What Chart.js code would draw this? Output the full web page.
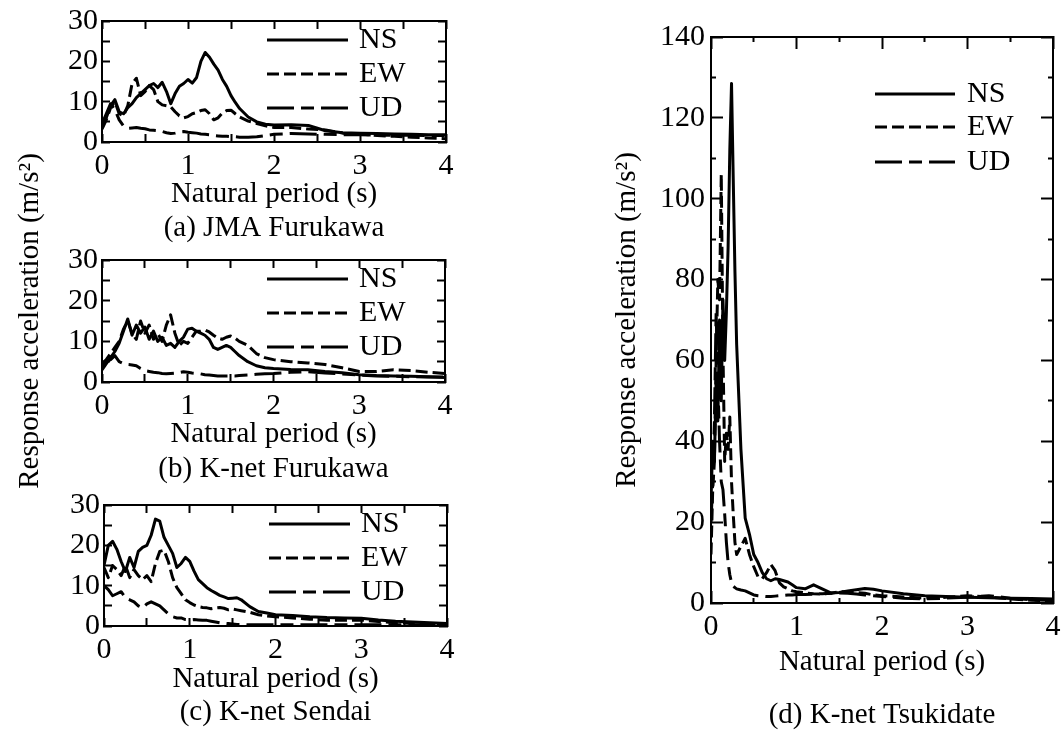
<!DOCTYPE html>
<html>
<head>
<meta charset="utf-8">
<title>Response spectra</title>
<script src="https://cdn.jsdelivr.net/npm/chart.js@4.4.1/dist/chart.umd.min.js"></script>
<style>
  html, body { margin: 0; padding: 0; background: #fff; }
  body { position: relative; width: 1061px; height: 731px; overflow: hidden; }
  canvas { position: absolute; }
</style>
</head>
<body>
<canvas id="chartA"></canvas>
<canvas id="chartB"></canvas>
<canvas id="chartC"></canvas>
<canvas id="chartD"></canvas>
<script>
// natural periods (s) used by panels a, b, c
const periodLeft = [0, 0.05, 0.1, 0.15, 0.2, 0.25, 0.3, 0.35, 0.4, 0.45, 0.5, 0.55, 0.6, 0.65, 0.7, 0.75, 0.8,
  0.85, 0.9, 0.95, 1.0, 1.05, 1.1, 1.15, 1.2, 1.25, 1.3, 1.35, 1.4, 1.45, 1.5, 1.55, 1.6,
  1.7, 1.8, 1.9, 2.0, 2.2, 2.4, 2.6, 2.8, 3.0, 3.2, 3.4, 3.6, 3.8, 4.0];

// (a) JMA Furukawa
const nsA = [4.2, 6, 9, 10.5, 7.5, 7, 8.5, 9.5, 11, 12, 13, 14, 14.5, 13.5, 14.8, 12.5, 9.5,
  12, 13.8, 14.5, 15.5, 14.6, 16, 20, 22.2, 21, 19.3, 17.8, 15.5, 13.8, 11.5, 9.8, 8.3,
  6.2, 5, 4.4, 4.2, 4.3, 4.1, 2.8, 2.3, 2.2, 2.1, 2.0, 1.9, 1.8, 1.8];
const ewA = [3.2, 5.5, 8.5, 10, 7, 6.5, 9, 14.5, 15.8, 11.5, 12.5, 14, 13, 10, 9.2, 9, 8.7,
  7.5, 6.5, 6, 6.3, 7, 7.3, 7.8, 8, 7, 5.5, 6, 7.2, 7.8, 7.9, 7, 6.2,
  5.2, 4.6, 4, 3.6, 3.6, 3.2, 3.0, 2.2, 2.0, 1.6, 1.4, 1.2, 1.0, 0.8];
const udA = [4.5, 7, 9.5, 8, 5.5, 4, 3.4, 3.5, 3.6, 3.4, 3.3, 3.0, 2.9, 2.8, 2.6, 2.3, 2.1,
  2.2, 2.5, 2.6, 2.4, 2.3, 2.2, 2.0, 1.9, 1.8, 1.6, 1.5, 1.4, 1.4, 1.3, 1.3, 1.2,
  1.2, 1.3, 1.6, 1.9, 2.1, 2.0, 1.9, 1.8, 1.8, 1.7, 1.7, 1.7, 1.6, 1.6];

// (b) K-net Furukawa
const nsB = [3, 4.5, 6, 7.5, 9.5, 12.5, 15.5, 11.5, 14, 12, 13.5, 10.5, 12.5, 10, 11, 9, 9.5,
  8.5, 10, 11, 13, 13.2, 12.5, 12, 11.5, 10.5, 8.5, 8, 8.5, 9, 8.5, 7.5, 6.5,
  5, 4, 3.5, 3.3, 3.1, 3.0, 2.6, 2.3, 1.8, 1.6, 1.5, 1.4, 1.3, 1.1];
const ewB = [4.5, 5.5, 7, 8.5, 10, 13, 15, 12, 10.5, 15, 12, 14, 10.5, 12, 10, 14, 16.5,
  12, 9, 10, 9.5, 11, 12.5, 12.5, 12.8, 12.3, 11.5, 10.8, 10.5, 11, 11.3, 10.8, 10,
  9, 7, 6, 5.5, 5, 4.7, 4.3, 3.5, 2.6, 2.6, 3.0, 2.8, 2.4, 2.1];
const udB = [4, 5, 5.5, 6.5, 5, 4.5, 4.3, 4.2, 4, 3.3, 2.8, 2.6, 2.4, 2.3, 2.1, 2.0, 2.1,
  2.2, 2.3, 2.5, 2.4, 2.2, 2.1, 2.0, 1.8, 1.7, 1.6, 1.5, 1.5, 1.5, 1.5, 1.5, 1.6,
  1.7, 1.9, 2.0, 2.1, 2.4, 2.5, 2.2, 2.0, 1.7, 1.5, 1.4, 1.3, 1.2, 1.2];

// (c) K-net Sendai
const nsC = [15, 20, 21, 19, 16, 13.5, 17, 14.5, 18.5, 19.5, 20, 22.5, 26.5, 26, 22, 20, 18,
  14.5, 15.5, 17, 16, 13.6, 11.5, 10.5, 9.5, 8.8, 8.2, 7.6, 7.2, 6.8, 6.9, 7.0, 6.5,
  4.8, 3.6, 3.2, 2.8, 2.6, 2.3, 2.1, 2.0, 1.9, 1.5, 1.2, 1.0, 0.8, 0.6];
const ewC = [14.5, 12, 15, 14, 12.5, 15, 12, 14, 12.5, 11.5, 12.5, 11, 15.5, 18.5, 18.8, 16, 12,
  9.5, 8, 6.5, 5.8, 5.2, 4.8, 4.6, 4.5, 4.3, 4.5, 4.6, 4.4, 4.0, 4.2, 4.0, 3.8,
  3.4, 2.8, 2.5, 2.3, 2.0, 1.7, 1.4, 1.4, 1.5, 1.1, 0.8, 0.6, 0.5, 0.4];
const udC = [10, 9, 7.5, 8, 8.5, 7, 6.5, 6, 5, 4.5, 5.5, 6, 5.5, 5, 4, 3, 2.3,
  2.0, 2.0, 1.6, 1.5, 1.6, 1.5, 1.4, 1.4, 1.2, 1.0, 0.8, 0.7, 0.6, 0.5, 0.4, 0.4,
  0.3, 0.3, 0.3, 0.3, 0.3, 0.3, 0.3, 0.3, 0.3, 0.3, 0.3, 0.3, 0.3, 0.3];

// (d) K-net Tsukidate
const periodD = [0, 0.02, 0.04, 0.06, 0.08, 0.1, 0.12, 0.14, 0.16, 0.18, 0.2, 0.22, 0.24, 0.26, 0.28, 0.3,
  0.35, 0.4, 0.45, 0.5, 0.55, 0.6, 0.65, 0.7, 0.75, 0.8, 0.85, 0.9, 0.95, 1.0,
  1.1, 1.2, 1.3, 1.4, 1.5, 1.6, 1.7, 1.8, 1.9, 2.0, 2.25, 2.5, 2.75, 3.0, 3.25, 3.5, 3.75, 4.0];
const nsD = [25, 40, 35, 55, 45, 70, 50, 75, 60, 72, 88, 112, 128.5, 105, 82, 64,
  38, 21, 17, 12, 10, 7.5, 6, 5.5, 6, 5.8, 5.5, 5.2, 4.5, 3.8,
  3.5, 4.5, 3.5, 2.5, 2.6, 3.0, 3.3, 3.6, 3.4, 3.0, 2.3, 1.8, 1.6, 1.4, 1.3, 1.2, 1.1, 1.0];
const ewD = [12, 28, 35, 60, 80, 75, 106, 62, 35, 42, 38, 46, 30, 22, 15, 12,
  14, 16, 12, 9, 6.5, 6, 7.5, 9.5, 8, 5, 4, 3.5, 3, 2.8,
  2.5, 2.3, 2.2, 2.4, 2.8, 2.8, 2.6, 2.4, 2.0, 1.8, 1.5, 1.2, 1.4, 1.8, 1.5, 1.0, 0.7, 0.5];
const udD = [20, 30, 45, 72, 55, 40, 30, 28, 22, 15, 10, 7, 5, 4.2, 3.8, 3.5,
  3.2, 3.0, 2.5, 2.0, 1.8, 1.7, 1.6, 1.6, 1.7, 1.8, 1.9, 2.0, 2.0, 2.1,
  2.1, 2.2, 2.3, 2.4, 2.5, 2.4, 2.2, 2.0, 1.8, 1.6, 1.2, 1.0, 1.2, 1.4, 1.8, 1.2, 0.8, 0.6];

const components = ['NS', 'EW', 'UD'];
const dashes = [[], [12, 5], [27, 7, 13, 7]];

Chart.defaults.font.family = '"Liberation Serif", "Times New Roman", serif';
Chart.defaults.font.size = 30;
Chart.defaults.color = '#000';

// legend drawn inside the plot area (line sample + label)
const inlineLegend = {
    id: 'inlineLegend',
    afterDraw(chart, args, opts) {
        const { ctx, chartArea } = chart;
        ctx.save();
        ctx.font = '30px "Liberation Serif"';
        ctx.fillStyle = '#000';
        ctx.strokeStyle = '#000';
        ctx.lineWidth = 3.2;
        ctx.textBaseline = 'middle';
        chart.data.datasets.forEach((ds, i) => {
            const y = chartArea.top + opts.rows[i];
            ctx.setLineDash(ds.borderDash || []);
            ctx.beginPath();
            ctx.moveTo(chartArea.left + opts.x0, y);
            ctx.lineTo(chartArea.left + opts.x1, y);
            ctx.stroke();
            ctx.setLineDash([]);
            ctx.fillText(ds.label, chartArea.left + opts.tx, y);
        });
        ctx.restore();
    }
};

function creaDataset(periods, values, i) {
    return {
        label: components[i],
        data: periods.map((t, k) => ({ x: t, y: values[k] })),
        borderColor: '#000',
        borderWidth: 3,
        borderDash: dashes[i],
        borderJoinStyle: 'round',
        pointRadius: 0,
        fill: false,
        xAxisID: 'x',
        yAxisID: 'y'
    };
}

// fixed axis sizes, no extra padding from the tick labels
function fissa(scale, w, h) {
    if (w !== null) scale.width = w;
    if (h !== null) scale.height = h;
    scale.paddingLeft = 0;
    scale.paddingRight = 0;
    scale.paddingTop = 0;
    scale.paddingBottom = 0;
}

function creaPannello(p) {
    const canvas = document.getElementById(p.id);
    const titleLine = 29 * 1.2;
    const xAxisHeight = p.xTitleGap + titleLine / 2;
    const capPad = p.captionGap - p.xTitleGap - titleLine;
    const top = p.area.top - p.padTop;
    const height = p.bottomEdge - top;
    const rightPad = Math.min(14, 1061 - p.area.right);
    const width = p.area.right - p.left + rightPad;
    const padBottom = height - (p.area.bottom - top) - xAxisHeight - (titleLine + capPad);
    canvas.width = width;
    canvas.height = height;
    canvas.style.left = p.left + 'px';
    canvas.style.top = top + 'px';

    const tl = p.tickLen;
    const isMajorX = v => Number.isInteger(v);
    const isMajorY = v => v % p.yLabelStep === 0;
    // minor ticks are shortened with a dash pattern (from the border side)
    const tickDash = (pos, isMajor) => ctx => {
        if (!p.minorLen || !ctx.tick || isMajor(ctx.tick.value)) return [];
        if (pos === 'top' || pos === 'left') return [0, tl + 1 - p.minorLen, p.minorLen, 1000];
        return [p.minorLen, 1000];
    };
    const grid = (pos, isMajor) => ({
        display: true,
        drawOnChartArea: false,
        drawTicks: true,
        tickLength: -tl,
        tickWidth: 2,
        tickColor: '#000',
        tickBorderDash: tickDash(pos, isMajor)
    });
    const frame = { display: true, color: '#000', width: 2 };

    return new Chart(canvas, {
        type: 'line',
        data: {
            datasets: p.series.map((vals, i) => creaDataset(p.periods, vals, i))
        },
        options: {
            responsive: false,
            animation: false,
            events: [],
            devicePixelRatio: 1,
            layout: {
                autoPadding: false,
                padding: { left: 0, top: p.padTop, right: rightPad, bottom: padBottom }
            },
            plugins: {
                legend: { display: false },
                tooltip: { enabled: false },
                title: {
                    display: true,
                    position: 'bottom',
                    fullSize: false,
                    text: p.caption,
                    font: { size: 29, weight: 'normal' },
                    padding: { top: capPad, bottom: 0 }
                },
                inlineLegend: p.legend
            },
            scales: {
                x: {
                    type: 'linear', position: 'bottom', min: 0, max: 4,
                    ticks: {
                        stepSize: 0.5, autoSkip: false, maxRotation: 0, minRotation: 0,
                        padding: tl + 6,
                        callback: v => isMajorX(v) ? v : ''
                    },
                    grid: grid('bottom', isMajorX),
                    border: frame,
                    title: { display: true, text: 'Natural period (s)', font: { size: 29 }, padding: 0 },
                    afterFit: s => fissa(s, null, xAxisHeight)
                },
                xTop: {
                    type: 'linear', position: 'top', min: 0, max: 4,
                    ticks: { display: false, stepSize: 0.5, autoSkip: false },
                    grid: grid('top', isMajorX),
                    border: frame,
                    afterFit: s => fissa(s, null, 0)
                },
                y: {
                    type: 'linear', position: 'left', min: 0, max: p.yMax,
                    ticks: {
                        stepSize: p.yStep, autoSkip: false,
                        padding: tl + p.yLabelGap,
                        callback: v => isMajorY(v) ? v : ''
                    },
                    grid: grid('left', isMajorY),
                    border: frame,
                    title: p.yTitlePad === undefined ? { display: false } : {
                        display: true,
                        text: 'Response acceleration (m/s²)',
                        font: { size: 29 },
                        padding: { top: p.yTitlePad, bottom: 0 }
                    },
                    afterFit: s => fissa(s, p.area.left - p.left, null)
                },
                yRight: {
                    type: 'linear', position: 'right', min: 0, max: p.yMax,
                    ticks: { display: false, stepSize: p.yStep, autoSkip: false },
                    grid: grid('right', isMajorY),
                    border: frame,
                    afterFit: s => fissa(s, 0, null)
                }
            }
        },
        plugins: [inlineLegend]
    });
}

const legendSmall = { x0: 165, x1: 246, tx: 257, rows: [19, 53, 87] };

creaPannello({
    id: 'chartA', left: 0, padTop: 21, bottomEdge: 252,
    area: { left: 102, top: 21, right: 446, bottom: 142 },
    periods: periodLeft, series: [nsA, ewA, udA],
    yMax: 30, yStep: 5, yLabelStep: 10, tickLen: 8, minorLen: 0, yLabelGap: 4,
    xTitleGap: 52, captionGap: 86, caption: '(a) JMA Furukawa',
    legend: legendSmall
});

creaPannello({
    id: 'chartB', left: 0, padTop: 130, bottomEdge: 500,
    area: { left: 102, top: 260, right: 445, bottom: 382 },
    periods: periodLeft, series: [nsB, ewB, udB],
    yMax: 30, yStep: 5, yLabelStep: 10, tickLen: 8, minorLen: 0, yLabelGap: 4,
    xTitleGap: 52, captionGap: 87, caption: '(b) K-net Furukawa',
    yTitlePad: 12.6,
    legend: legendSmall
});

creaPannello({
    id: 'chartC', left: 0, padTop: 30, bottomEdge: 731,
    area: { left: 104, top: 505, right: 447, bottom: 626 },
    periods: periodLeft, series: [nsC, ewC, udC],
    yMax: 30, yStep: 5, yLabelStep: 10, tickLen: 8, minorLen: 0, yLabelGap: 4,
    xTitleGap: 53, captionGap: 86, caption: '(c) K-net Sendai',
    legend: legendSmall
});

creaPannello({
    id: 'chartD', left: 600, padTop: 37, bottomEdge: 731,
    area: { left: 711, top: 37, right: 1053, bottom: 603 },
    periods: periodD, series: [nsD, ewD, udD],
    yMax: 140, yStep: 10, yLabelStep: 20, tickLen: 12, minorLen: 6, yLabelGap: 6,
    xTitleGap: 59, captionGap: 112, caption: '(d) K-net Tsukidate',
    yTitlePad: 9.6,
    legend: { x0: 164, x1: 244, tx: 256, rows: [57, 90, 125] }
});
</script>
</body>
</html>
